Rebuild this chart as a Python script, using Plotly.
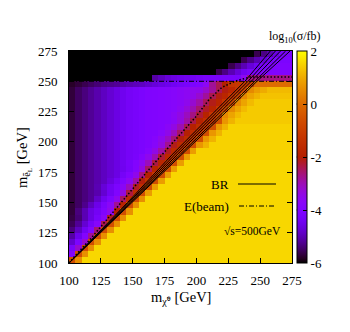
import math
import plotly.graph_objects as go

# ---- data ----
# cell centres (GeV)
m_chi0 = [102.5, 107.5, 112.5, 117.5, 122.5, 127.5, 132.5, 137.5, 142.5, 147.5,
          152.5, 157.5, 162.5, 167.5, 172.5, 177.5, 182.5, 187.5, 192.5, 197.5,
          202.5, 207.5, 212.5, 217.5, 222.5, 227.5, 232.5, 237.5, 242.5, 247.5,
          252.5, 257.5, 262.5, 267.5, 272.5]
m_seL = [102.5, 107.5, 112.5, 117.5, 122.5, 127.5, 132.5, 137.5, 142.5, 147.5,
         152.5, 157.5, 162.5, 167.5, 172.5, 177.5, 182.5, 187.5, 192.5, 197.5,
         202.5, 207.5, 212.5, 217.5, 222.5, 227.5, 232.5, 237.5, 242.5, 247.5,
         252.5, 257.5, 262.5, 267.5, 272.5]

Y = 1.55   # yellow plateau (lower region)
Yb = 1.5
Yc = 1.4
K = -6.5   # black (below colour range)

# log10(sigma/fb), one row per m_seL value
log_sigma = [
 [-0.6,0.6, Y,Y,Y,Y,Y, Y,Y,Y,Y,Y, Y,Y,Y,Y,Y, Y,Y,Y,Y,Y, Y,Y,Y,Y,Y, Y,Y,Y,Y,Y, Y,Y,Y],
 [-3.9,-0.6,0.6, Y,Y,Y,Y,Y, Y,Y,Y,Y,Y, Y,Y,Y,Y,Y, Y,Y,Y,Y,Y, Y,Y,Y,Y,Y, Y,Y,Y,Y,Y, Y,Y],
 [-4.2,-3.2,-0.6,0.6, Y,Y,Y,Y,Y, Y,Y,Y,Y,Y, Y,Y,Y,Y,Y, Y,Y,Y,Y,Y, Y,Y,Y,Y,Y, Y,Y,Y,Y,Y, Y],
 [-4.8,-4.1,-3.2,-0.6,0.6, Y,Y,Y,Y,Y, Y,Y,Y,Y,Y, Y,Y,Y,Y,Y, Y,Y,Y,Y,Y, Y,Y,Y,Y,Y, Y,Y,Y,Y,Y],
 [-5.1,-4.5,-3.9,-2.8,-0.6,0.6, Y,Y,Y,Y,Y, Y,Y,Y,Y,Y, Y,Y,Y,Y,Y, Y,Y,Y,Y,Y, Y,Y,Y,Y,Y, Y,Y,Y,Y],
 [-5.35,-4.9,-4.4,-3.85,-2.6,-0.6,0.6, Y,Y,Y,Y,Y, Y,Y,Y,Y,Y, Y,Y,Y,Y,Y, Y,Y,Y,Y,Y, Y,Y,Y,Y,Y, Y,Y,Y],
 [-5.55,-5.2,-4.75,-4.3,-3.8,-2.4,-0.6,0.6, Y,Y,Y,Y,Y, Y,Y,Y,Y,Y, Y,Y,Y,Y,Y, Y,Y,Y,Y,Y, Y,Y,Y,Y,Y, Y,Y],
 [-5.65,-5.4,-5.0,-4.6,-4.2,-3.7,-2.2,-0.6,0.6, Y,Y,Y,Y,Y, Y,Y,Y,Y,Y, Y,Y,Y,Y,Y, Y,Y,Y,Y,Y, Y,Y,Y,Y,Y, Y],
 [-5.7,-5.35,-5.0,-4.6,-4.35,-4.0,-3.5,-2.0,-0.6,0.6, Y,Y,Y,Y,Y, Y,Y,Y,Y,Y, Y,Y,Y,Y,Y, Y,Y,Y,Y,Y, Y,Y,Y,Y,Y],
 [-5.7,-5.5,-5.26,-4.91,-4.54,-4.16,-3.66,-2.78,-1.85,-0.6,0.6, Y,Y,Y,Y,Y, Y,Y,Y,Y,Y, Y,Y,Y,Y,Y, Y,Y,Y,Y,Y, Y,Y,Y,Y],
 [-5.7,-5.5,-5.35,-5.2,-4.84,-4.46,-4.07,-3.53,-2.52,-1.62,-0.6,0.6, Y,Y,Y,Y,Y, Y,Y,Y,Y,Y, Y,Y,Y,Y,Y, Y,Y,Y,Y,Y, Y,Y,Y],
 [-5.7,-5.5,-5.35,-5.2,-5.05,-4.76,-4.39,-3.98,-3.37,-2.32,-1.53,-0.6,0.8, Y,Y,Y,Y,Y, Y,Y,Y,Y,Y, Y,Y,Y,Y,Y, Y,Y,Y,Y,Y, Y,Y],
 [-5.7,-5.5,-5.35,-5.2,-5.01,-4.71,-4.41,-4.1,-3.7,-3.06,-2.18,-1.5,-0.6,0.8, Y,Y,Y,Y,Y, Y,Y,Y,Y,Y, Y,Y,Y,Y,Y, Y,Y,Y,Y,Y, Y],
 [-5.7,-5.5,-5.35,-5.2,-5.05,-4.9,-4.65,-4.35,-4.03,-3.6,-2.9,-2.05,-1.3,-0.6,0.8, Y,Y,Y,Y,Y, Y,Y,Y,Y,Y, Y,Y,Y,Y,Y, Y,Y,Y,Y,Y],
 [-5.7,-5.5,-5.35,-5.2,-5.05,-4.9,-4.75,-4.59,-4.29,-3.95,-3.48,-2.7,-1.95,-1.3,-0.6,0.8, Y,Y,Y,Y,Y, Y,Y,Y,Y,Y, Y,Y,Y,Y,Y, Y,Y,Y,Y],
 [-5.7,-5.5,-5.35,-5.2,-5.05,-4.9,-4.75,-4.6,-4.45,-4.23,-3.89,-3.36,-2.5,-1.85,-1.3,-0.6,0.8, Y,Y,Y,Y,Y, Y,Y,Y,Y,Y, Y,Y,Y,Y,Y, Y,Y,Y],
 [-5.7,-5.5,-5.35,-5.2,-5.05,-4.9,-4.75,-4.6,-4.43,-4.21,-3.93,-3.59,-3.06,-2.35,-1.77,-1.3,-0.6,0.8, Y,Y,Y,Y,Y, Y,Y,Y,Y,Y, Y,Y,Y,Y,Y, Y,Y],
 [-5.7,-5.5,-5.35,-5.2,-5.05,-4.9,-4.75,-4.6,-4.45,-4.3,-4.17,-3.9,-3.52,-2.98,-2.27,-1.7,-1.3,-0.6,0.8, Yb,Yb,Yb,Yb,Yb, Yb,Yb,Yb,Yb,Yb, Yb,Yb,Yb,Yb,Yb, Yb],
 [-5.7,-5.5,-5.35,-5.2,-5.05,-4.9,-4.75,-4.6,-4.45,-4.3,-4.2,-4.1,-3.86,-3.44,-2.88,-2.19,-1.65,-1.3,-0.6,0.8, Yb,Yb,Yb,Yb,Yb, Yb,Yb,Yb,Yb,Yb, Yb,Yb,Yb,Yb,Yb],
 [-5.7,-5.5,-5.35,-5.2,-5.05,-4.9,-4.75,-4.6,-4.45,-4.3,-4.2,-4.1,-4.0,-3.8,-3.38,-2.77,-2.13,-1.61,-1.3,-0.6,0.7,1.1, Yb,Yb,Yb,Yb,Yb, Yb,Yb,Yb,Yb,Yb, Yb,Yb,Yb],
 [-5.7,-5.5,-5.35,-5.2,-5.05,-4.9,-4.75,-4.6,-4.45,-4.3,-4.2,-4.1,-4.0,-3.83,-3.52,-3.12,-2.59,-2.07,-1.59,-1.3,-0.6,0.7,1.1, Yb,Yb,Yb,Yb,Yb, Yb,Yb,Yb,Yb,Yb, Yb,Yb],
 [-5.7,-5.5,-5.35,-5.2,-5.05,-4.9,-4.75,-4.6,-4.45,-4.3,-4.2,-4.1,-4.0,-3.95,-3.78,-3.47,-3.06,-2.51,-2.02,-1.56,-1.3,-0.6,0.7,1.1, Yb,Yb,Yb,Yb,Yb, Yb,Yb,Yb,Yb,Yb, Yb],
 [-5.7,-5.5,-5.35,-5.2,-5.05,-4.9,-4.75,-4.6,-4.45,-4.3,-4.2,-4.1,-4.0,-3.95,-3.9,-3.69,-3.41,-2.98,-2.42,-1.97,-1.53,-1.3,-0.6,0.7,1.1, Yb,Yb,Yb,Yb,Yb, Yb,Yb,Yb,Yb,Yb],
 [-5.7,-5.5,-5.35,-5.2,-5.05,-4.9,-4.75,-4.6,-4.45,-4.3,-4.2,-4.1,-4.0,-3.95,-3.9,-3.85,-3.7,-3.36,-2.92,-2.35,-1.93,-1.51,-1.3,-0.6,0.7,1.1, Yc,Yc,Yc,Yc,Yc, Yc,Yc,Yc,Yc],
 [-5.7,-5.5,-5.35,-5.2,-5.05,-4.9,-4.75,-4.6,-4.45,-4.3,-4.2,-4.1,-4.0,-3.95,-3.9,-3.85,-3.65,-3.4,-3.08,-2.69,-2.27,-1.88,-1.3,-0.8,0.5,0.9,1.2, Yc,Yc,Yc,Yc,Yc, Yc,Yc,Yc],
 [-5.7,-5.5,-5.35,-5.2,-5.05,-4.9,-4.75,-4.6,-4.45,-4.3,-4.2,-4.1,-4.0,-3.95,-3.9,-3.85,-3.8,-3.59,-3.32,-2.99,-2.57,-2.19,-1.83,-1.3,-0.8,0.5,0.9,1.2, Yc,Yc,Yc,Yc,Yc, Yc,Yc],
 [-5.7,-5.5,-5.35,-5.2,-5.05,-4.9,-4.75,-4.6,-4.45,-4.3,-4.2,-4.1,-4.0,-3.95,-3.9,-3.85,-3.8,-3.7,-3.52,-3.24,-2.9,-2.46,-2.12,-1.78,-1.3,-0.8,0.5,0.9,1.2, Yc,Yc,Yc,Yc,Yc, Yc],
 [-5.7,-5.5,-5.35,-5.2,-5.05,-4.9,-4.75,-4.6,-4.45,-4.3,-4.2,-4.1,-4.0,-3.95,-3.9,-3.85,-3.8,-3.7,-3.6,-3.48,-3.2,-2.83,-2.4,-2.08,-1.75,-1.3,-0.8,0.5,0.9,1.1, 1.3,1.3,1.3,1.3,1.3],
 [-5.7,-5.5,-5.35,-5.2,-5.05,-4.9,-4.75,-4.6,-4.45,-4.3,-4.2,-4.1,-4.0,-3.95,-3.9,-3.85,-3.8,-3.7,-3.6,-3.5,-3.48,-3.2,-2.83,-2.4,-2.07,-1.73,-1.3,-0.8,0.5,0.8,1.0, 1.2,1.2,1.2,1.2],
 [-5.8,-5.7,-5.6,-5.5,-5.4,-5.3,-5.25,-5.2,-5.1,-5.0,-4.95,-4.9,-4.8,-4.7,-4.6,-4.5,-4.4,-4.3,-4.2,-4.1,-4.0,-3.6,-2.8,-2.4,-2.0,-1.3,-1.2,-1.1,-1.0, 0.0,0.0,0.0,0.0,0.0,0.0],
 [K,K,K,K,K, K,K,K,K,K, K,K,K, -5.1,-4.9,-4.7,-4.6,-4.5,-4.45,-4.4,-4.3,-4.2,-4.2,-4.2,-4.2,-4.2,-4.2,-3.6, -2.7,-2.7,-2.7,-2.7,-2.7,-2.7,-2.7],
 [K,K,K,K,K, K,K,K,K,K, K,K,K,K,K, K,K,K,K,K, K,K,K, -5.6,-5.3,-5.0,-4.7,-4.4,-4.2, -4.0,-4.0,-4.0,-4.0,-4.0,-4.0],
 [K,K,K,K,K, K,K,K,K,K, K,K,K,K,K, K,K,K,K,K, K,K,K,K,K, -5.6,-5.3,-5.0,-4.7,-4.4,-4.2, -4.0,-4.0,-4.0,-4.0],
 [K,K,K,K,K, K,K,K,K,K, K,K,K,K,K, K,K,K,K,K, K,K,K,K,K, K,K, -5.6,-5.3,-5.0,-4.7,-4.4, -4.1,-4.1,-4.1],
 [K,K,K,K,K, K,K,K,K,K, K,K,K,K,K, K,K,K,K,K, K,K,K,K,K, K,K,K,K, -5.6,-5.3,-5.0,-4.6,-4.2,-4.2],
]
assert len(log_sigma) == len(m_seL)
for _r in log_sigma:
    assert len(_r) == len(m_chi0), len(_r)

# BR contour lines: x position at the given slepton masses
br_mseL = [100, 150, 190, 230, 250, 275]
br_lines_mchi = [
    [100, 146.0, 181.5, 219.5, 238.0, 258.0],
    [100, 147.0, 183.5, 221.5, 240.5, 262.0],
    [100, 148.0, 185.5, 224.0, 243.0, 266.0],
    [100, 149.0, 187.5, 226.5, 245.5, 270.0],
    [100, 149.5, 189.0, 228.5, 247.5, 273.5],
]
# dotted kinematic curve
dot_mchi = [100, 104, 117, 133, 149, 165, 182, 199, 210, 220, 230, 242, 275]
dot_mseL = [100, 105, 120, 140, 160, 180, 200, 220, 235, 245, 250, 253.5, 253.5]
# beam energy line
ebeam = 250
mass_range = [100, 275]

tick_vals = [100, 125, 150, 175, 200, 225, 250, 275]
cb_vals = [-6, -4, -2, 0, 2]
cb_text = ["-6", "-4", "-2", "0", "2"]
cb_range = [-6, 2]

# ---- gnuplot default palette (rgbformulae 7,5,15) ----
def gp_color(t):
    r = math.sqrt(t)
    g = t ** 3
    b = max(0.0, math.sin(2 * math.pi * t))
    return "rgb(%d,%d,%d)" % (round(255 * r), round(255 * g), round(255 * b))

colorscale = [[i / 50, gp_color(i / 50)] for i in range(51)]

FONT = "Liberation Serif, Times New Roman, serif"
CB_X = 1.021   # colour box left edge (fraction of plot width)

fig = go.Figure()
fig.add_trace(go.Heatmap(
    x=m_chi0, y=m_seL, z=log_sigma, zmin=cb_range[0], zmax=cb_range[1], zsmooth=False,
    colorscale=colorscale, hoverinfo="skip",
    colorbar=dict(x=CB_X, xanchor="left", xpad=0, ypad=0, y=0.5, yanchor="middle",
                  len=1, lenmode="fraction", thickness=10, outlinewidth=1,
                  outlinecolor="black", tickvals=cb_vals, ticktext=cb_text,
                  ticks="inside", ticklen=4, tickcolor="black",
                  tickfont=dict(family=FONT, size=13, color="black")),
))
for xs in br_lines_mchi:
    fig.add_trace(go.Scatter(x=xs, y=br_mseL, mode="lines",
                             line=dict(color="black", width=1),
                             showlegend=False, hoverinfo="skip"))
fig.add_trace(go.Scatter(x=mass_range, y=[ebeam, ebeam], mode="lines",
                         line=dict(color="black", width=1, dash="5px,2px,1px,2px"),
                         showlegend=False, hoverinfo="skip"))
fig.add_trace(go.Scatter(x=dot_mchi, y=dot_mseL, mode="lines",
                         line=dict(color="black", width=1.5, dash="1.5px,2px"),
                         showlegend=False, hoverinfo="skip"))

axis_common = dict(range=mass_range, tickvals=tick_vals, showgrid=False, zeroline=False,
                   showline=True, linecolor="black", linewidth=1, mirror="ticks",
                   ticks="inside", ticklen=5, tickcolor="black", automargin=False,
                   tickfont=dict(family=FONT, size=13, color="black"))
fig.update_xaxes(**axis_common, ticklabelstandoff=5)
fig.update_yaxes(**axis_common, ticklabelstandoff=8)

# window-pixel helpers (plot area spans x 69..292, y 51..263 in the window)
def px2x(px):
    return (px - 69) / 223.0

def py2y(py):
    return (263 - py) / 212.0

ann = []
ann.append(dict(text="m<sub>χ̃⁰</sub> [GeV]", x=px2x(181), y=py2y(298), xref="paper", yref="paper",
                showarrow=False, font=dict(family=FONT, size=14.5, color="black"),
                xanchor="center", yanchor="middle"))
ann.append(dict(text="m<sub>ẽ<sub>L</sub></sub> [GeV]", x=px2x(24), y=py2y(158), xref="paper", yref="paper",
                showarrow=False, textangle=-90, font=dict(family=FONT, size=14.5, color="black"),
                xanchor="center", yanchor="middle"))
ann.append(dict(text="log<sub>10</sub>(σ/fb)", x=px2x(295), y=py2y(37), xref="paper", yref="paper",
                showarrow=False, font=dict(family=FONT, size=12, color="black"),
                xanchor="center", yanchor="middle"))
ann.append(dict(text="BR", x=px2x(231), y=py2y(184), xref="paper", yref="paper",
                showarrow=False, font=dict(family=FONT, size=13, color="black"),
                xanchor="right", yanchor="middle"))
ann.append(dict(text="E(beam)", x=px2x(231), y=py2y(206), xref="paper", yref="paper",
                showarrow=False, font=dict(family=FONT, size=13, color="black"),
                xanchor="right", yanchor="middle"))
ann.append(dict(text="√s=500GeV", x=px2x(283), y=py2y(231), xref="paper", yref="paper",
                showarrow=False, font=dict(family=FONT, size=11.5, color="black"),
                xanchor="right", yanchor="middle"))

shapes = [
    dict(type="line", xref="paper", yref="paper", x0=px2x(238), x1=px2x(276),
         y0=py2y(184), y1=py2y(184), line=dict(color="black", width=1)),
    dict(type="line", xref="paper", yref="paper", x0=px2x(239), x1=px2x(274),
         y0=py2y(206), y1=py2y(206), line=dict(color="black", width=1, dash="5px,2px,1px,2px")),
]
# mirrored colour-box ticks on its left side (gnuplot draws both sides)
for v in cb_vals[1:-1]:
    yv = (v - cb_range[0]) / (cb_range[1] - cb_range[0])
    shapes.append(dict(type="line", xref="paper", yref="paper", x0=CB_X, x1=CB_X + 4 / 223.0,
                       y0=yv, y1=yv, line=dict(color="black", width=1)))

# the page body has an 8px default margin: size the figure so it fits the window
fig.update_layout(width=342, height=324,
                  margin=dict(l=61, r=58, t=43, b=69, pad=0, autoexpand=False),
                  paper_bgcolor="white", plot_bgcolor="white", showlegend=False,
                  annotations=ann, shapes=shapes)
fig.write_html("out.html")
